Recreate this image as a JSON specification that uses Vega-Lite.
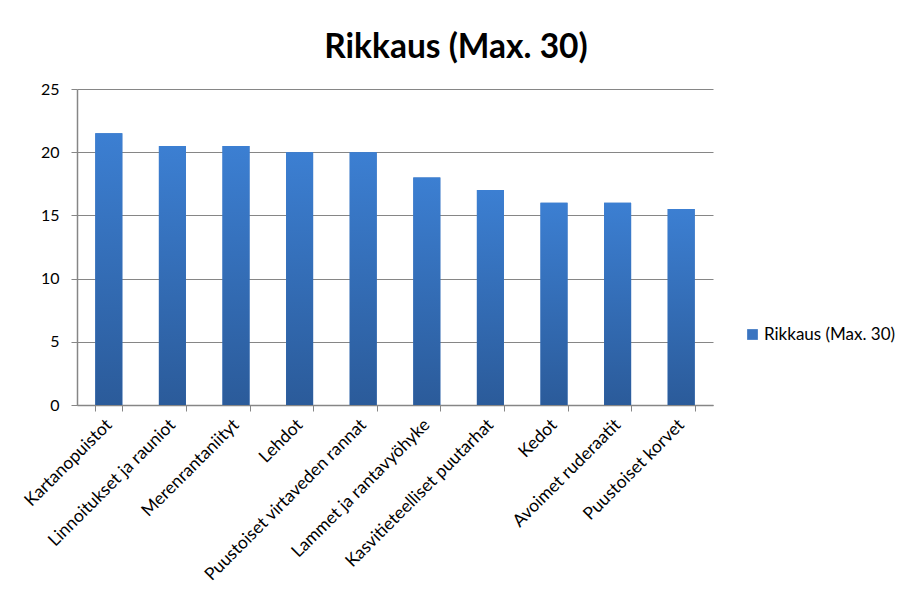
{
  "$schema": "https://vega.github.io/schema/vega-lite/v6.json",
  "autosize": {"type": "none"},
  "padding": {"left": 77, "top": 89, "right": 190, "bottom": 195},
  "width": 636,
  "height": 316,
  "background": "white",
  "title": {
    "text": "Rikkaus (Max. 30)",
    "font": "Lato",
    "fontSize": 33.5,
    "fontWeight": "bold",
    "color": "#000000",
    "anchor": "middle",
    "dx": 61,
    "offset": 16
  },
  "data": {
    "values": [
      {"elinymparisto": "Kartanopuistot", "rikkaus": 21.5, "sarja": "Rikkaus (Max. 30)"},
      {"elinymparisto": "Linnoitukset ja rauniot", "rikkaus": 20.5, "sarja": "Rikkaus (Max. 30)"},
      {"elinymparisto": "Merenrantaniityt", "rikkaus": 20.5, "sarja": "Rikkaus (Max. 30)"},
      {"elinymparisto": "Lehdot", "rikkaus": 20, "sarja": "Rikkaus (Max. 30)"},
      {"elinymparisto": "Puustoiset virtaveden rannat", "rikkaus": 20, "sarja": "Rikkaus (Max. 30)"},
      {"elinymparisto": "Lammet ja rantavyöhyke", "rikkaus": 18, "sarja": "Rikkaus (Max. 30)"},
      {"elinymparisto": "Kasvitieteelliset puutarhat", "rikkaus": 17, "sarja": "Rikkaus (Max. 30)"},
      {"elinymparisto": "Kedot", "rikkaus": 16, "sarja": "Rikkaus (Max. 30)"},
      {"elinymparisto": "Avoimet ruderaatit", "rikkaus": 16, "sarja": "Rikkaus (Max. 30)"},
      {"elinymparisto": "Puustoiset korvet", "rikkaus": 15.5, "sarja": "Rikkaus (Max. 30)"}
    ]
  },
  "encoding": {
    "x": {
      "field": "elinymparisto",
      "type": "nominal",
      "sort": null,
      "title": null,
      "scale": {"paddingInner": 0.575, "paddingOuter": 0.2875},
      "axis": {
        "labelAngle": -45,
        "labelAlign": "right",
        "labelBaseline": "middle",
        "labelFont": "Lato",
        "labelFontSize": 17.5,
        "labelColor": "#000000",
        "labelPadding": 11,
        "tickBand": "extent",
        "tickSize": 6,
        "tickColor": "#868686",
        "domainColor": "#868686",
        "domainWidth": 1.5,
        "labelLimit": 400
      }
    },
    "y": {
      "field": "rikkaus",
      "type": "quantitative",
      "title": null,
      "scale": {"domain": [0, 25], "nice": false},
      "axis": {
        "values": [0, 5, 10, 15, 20, 25],
        "labelFont": "Lato",
        "labelFontSize": 16,
        "labelColor": "#000000",
        "labelPadding": 12,
        "tickSize": 6,
        "tickColor": "#868686",
        "domainColor": "#868686",
        "domainWidth": 1.5,
        "gridColor": "#868686",
        "gridWidth": 1
      }
    }
  },
  "layer": [
    {
      "mark": {"type": "bar"},
      "encoding": {
        "color": {
          "field": "sarja",
          "type": "nominal",
          "scale": {"range": ["#3a74c0"]},
          "legend": {
            "title": null,
            "orient": "none",
            "legendX": 667,
            "legendY": 237,
            "symbolType": "square",
            "symbolSize": 115,
            "symbolStrokeWidth": 0,
            "labelFont": "Lato",
            "labelFontSize": 17,
            "labelColor": "#000000",
            "labelOffset": 3,
            "labelLimit": 300
          }
        }
      }
    },
    {
      "mark": {
        "type": "bar",
        "fill": {
          "gradient": "linear",
          "x1": 0, "y1": 0, "x2": 0, "y2": 1,
          "stops": [
            {"offset": 0, "color": "#3c7fd2"},
            {"offset": 1, "color": "#2b5b9a"}
          ]
        }
      }
    }
  ],
  "config": {"view": {"stroke": null}}
}
